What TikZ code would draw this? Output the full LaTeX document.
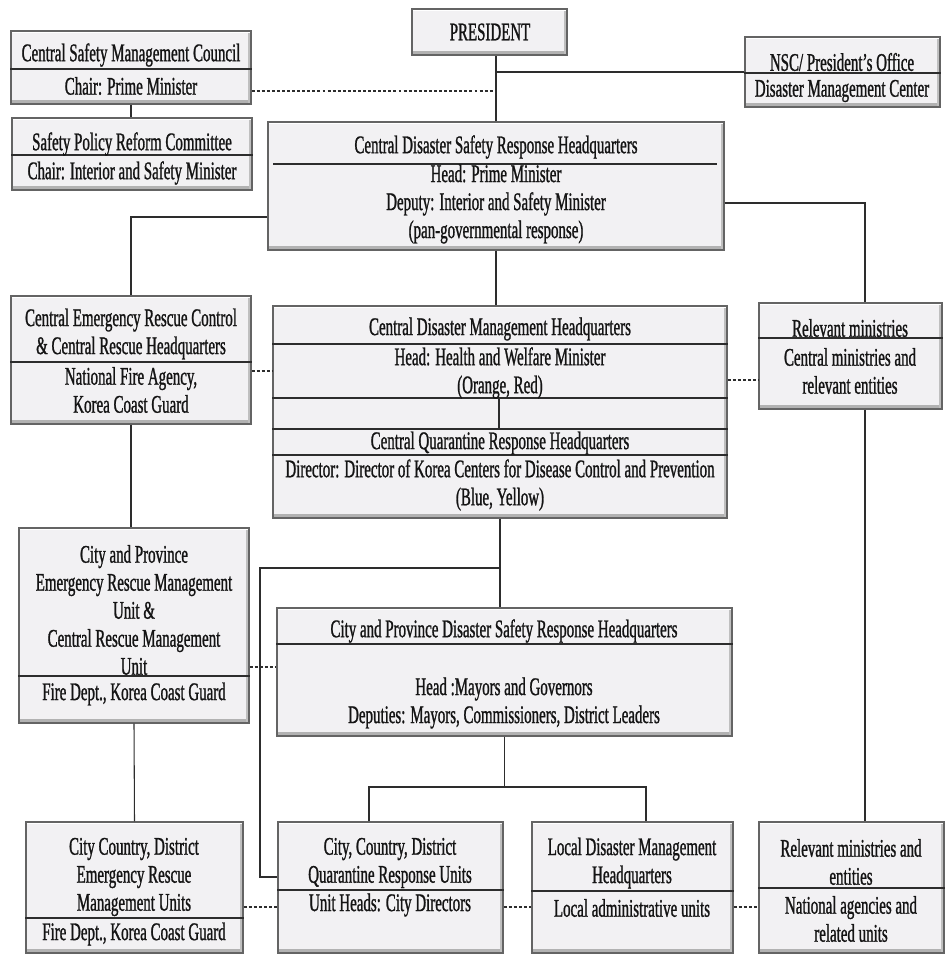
\documentclass[tikz,border=0pt]{standalone}
\usepackage{fontspec}
\setmainfont[FakeStretch=0.59,FakeBold=1]{Liberation Serif}
\usetikzlibrary{fit}
\definecolor{boxfill}{RGB}{242,241,243}
\definecolor{boxedge}{RGB}{100,100,100}
\definecolor{lineclr}{RGB}{45,45,45}
\tikzset{
  box/.style={draw=boxedge, line width=0.9pt, fill=boxfill, inner sep=0pt,
    path picture={
      \fill[gray!60] ([yshift=3pt]path picture bounding box.south west) rectangle (path picture bounding box.south east);
      \fill[gray!50] ([xshift=-2.2pt]path picture bounding box.north east) rectangle (path picture bounding box.south east);
      \fill[white] (path picture bounding box.north west) rectangle ([yshift=-1.8pt]path picture bounding box.north east);
    }},
  lbl/.style={font=\fontsize{19}{21}\selectfont, align=center, inner sep=0pt, text=black!92},
  divline/.style={draw=lineclr, line width=0.9pt},
  link/.style={draw=lineclr, line width=0.8pt},
  dotlink/.style={link, dash pattern=on 2.2pt off 1.6pt}
}
\begin{document}
\begin{tikzpicture}[x=0.75pt,y=-0.75pt]
	\useasboundingbox (0,0) rectangle (946,955);
	\node[box, fit={(412,9) (567,55)}] (pres) {};
	\node[lbl] (pres-a) at (490,32) {PRESIDENT};
	\node[box, fit={(11,31) (251,104)}] (csmc) {};
	\draw[divline] (csmc.west |- 0,69) -- (csmc.east |- 0,69);
	\node[lbl] (csmc-a) at (131,55) {Central Safety Management Council};
	\node[lbl] (csmc-b) at (131,86) {Chair: Prime Minister};
	\node[box, fit={(12,118) (252,190)}] (spr) {};
	\draw[divline] (spr.west |- 0,155) -- (spr.east |- 0,155);
	\node[lbl] (spr-a) at (132,144) {Safety Policy Reform Committee};
	\node[lbl] (spr-b) at (132,173) {Chair: Interior and Safety Minister};
	\node[box, fit={(745,37) (940,107)}] (nsc) {};
	\draw[divline] (nsc.west |- 0,73) -- (nsc.east |- 0,73);
	\node[lbl] (nsc-a) at (842,62) {NSC/ President’s Office};
	\node[lbl] (nsc-b) at (842,91) {Disaster Management Center};
	\node[box, fit={(268,122) (724,250)}] (cdsrh) {};
	\draw[divline] (273,164) -- (717,164);
	\node[lbl] (cdsrh-a) at (496,147) {Central Disaster Safety Response Headquarters};
	\node[lbl] (cdsrh-b) at (496,204) {Head: Prime Minister\\Deputy: Interior and Safety Minister\\(pan-governmental response)};
	\node[box, fit={(11,296) (251,424)}] (cer) {};
	\draw[divline] (cer.west |- 0,362) -- (cer.east |- 0,362);
	\node[lbl] (cer-a) at (131,334) {Central Emergency Rescue Control\\\& Central Rescue Headquarters};
	\node[lbl] (cer-b) at (131,390) {National Fire Agency,\\Korea Coast Guard};
	\node[box, fit={(273,306) (727,518)}] (cdmh) {};
	\foreach \yy in {344,398,429,455}
		\draw[divline] (cdmh.west |- 0,\yy) -- (cdmh.east |- 0,\yy);
	\node[lbl] (cdmh-a) at (500,329) {Central Disaster Management Headquarters};
	\node[lbl] (cdmh-b) at (500,373) {Head: Health and Welfare Minister\\(Orange, Red)};
	\node[lbl] (cqrh-a) at (500,443) {Central Quarantine Response Headquarters};
	\node[lbl] (cqrh-b) at (500,485) {Director: Director of Korea Centers for Disease Control and Prevention\\(Blue, Yellow)};
	\coordinate (cdmh-lo) at (499,398);
	\coordinate (cqrh-hi) at (499,429);
	\node[box, fit={(759,303) (942,409)}] (rm) {};
	\draw[divline] (rm.west |- 0,338) -- (rm.east |- 0,338);
	\node[lbl] (rm-a) at (850,328) {Relevant ministries};
	\node[lbl] (rm-b) at (850,371) {Central ministries and\\relevant entities};
	\node[box, fit={(19,528) (249,723)}] (cpe) {};
	\draw[divline] (cpe.west |- 0,676) -- (cpe.east |- 0,676);
	\node[lbl] (cpe-a) at (134,610) {City and Province\\Emergency Rescue Management\\Unit \&\\Central Rescue Management\\Unit};
	\node[lbl] (cpe-b) at (134,694) {Fire Dept., Korea Coast Guard};
	\node[box, fit={(277,608) (732,736)}] (cpdsrh) {};
	\draw[divline] (cpdsrh.west |- 0,644) -- (cpdsrh.east |- 0,644);
	\node[lbl] (cpdsrh-a) at (504,631) {City and Province Disaster Safety Response Headquarters};
	\node[lbl] (cpdsrh-b) at (504,703) {Head :Mayors and Governors\\Deputies: Mayors, Commissioners, District Leaders};
	\node[box, fit={(26,822) (243,953)}] (ccde) {};
	\draw[divline] (ccde.west |- 0,918) -- (ccde.east |- 0,918);
	\node[lbl] (ccde-a) at (134,877) {City Country, District\\Emergency Rescue\\Management Units};
	\node[lbl] (ccde-b) at (134,934) {Fire Dept., Korea Coast Guard};
	\node[box, fit={(278,822) (503,953)}] (ccdq) {};
	\draw[divline] (ccdq.west |- 0,890) -- (ccdq.east |- 0,890);
	\node[lbl] (ccdq-a) at (390,863) {City, Country, District\\Quarantine Response Units};
	\node[lbl] (ccdq-b) at (390,905) {Unit Heads: City Directors};
	\node[box, fit={(532,822) (733,953)}] (ldmh) {};
	\draw[divline] (ldmh.west |- 0,891) -- (ldmh.east |- 0,891);
	\node[lbl] (ldmh-a) at (632,863) {Local Disaster Management\\Headquarters};
	\node[lbl] (ldmh-b) at (632,908) {Local administrative units};
	\node[box, fit={(759,822) (944,953)}] (rme) {};
	\draw[divline] (rme.west |- 0,888) -- (rme.east |- 0,888);
	\node[lbl] (rme-a) at (851,862) {Relevant ministries and\\entities};
	\node[lbl] (rme-b) at (851,919) {National agencies and\\related units};
	\coordinate (qbend) at (260,568);
	\coordinate (fork) at (504.5,787);
	\draw[link] (cdsrh.north) -- (cdsrh.north |- pres.south);
	\draw[link] (cdsrh.north |- nsc.west) -- (nsc.west);
	\draw[dotlink] (csmc.east |- 0,91) -- (cdsrh.north |- 0,91);
	\draw[link] (csmc.south) -- (csmc.south |- spr.north);
	\draw[link] (cdsrh.west |- 0,217) -| (cer.north);
	\draw[link] (cdsrh.east |- 0,203) -| (rm.north -| 865,0);
	\draw[link] (cdsrh.south) -- (cdsrh.south |- cdmh.north);
	\draw[link] (cdmh-lo) -- (cqrh-hi);
	\draw[dotlink] (cer.east |- 0,371) -- (cdmh.west |- 0,371);
	\draw[dotlink] (cdmh.east |- 0,380) -- (rm.west |- 0,380);
	\draw[link] (rm.south -| 865,0) -- (rme.north -| 865,0);
	\draw[link] (cer.south) -- (cer.south |- cpe.north);
	\draw[dotlink] (cpe.east |- 0,667) -- (cpdsrh.west |- 0,667);
	\draw[link] (cdmh.south) -- (cdmh.south |- cpdsrh.north);
	\draw[link] (cdmh.south |- qbend) -- (qbend) |- (ccdq.west |- 0,877);
	\draw[link] (cpe.south) -- (ccde.north);
	\draw[dotlink] (ccde.east |- 0,907) -- (ccdq.west |- 0,907);
	\draw[link] (cpdsrh.south) -- (fork);
	\draw[link] (ccdq.north -| 369,0) |- (fork) -| (ldmh.north -| 646,0);
	\draw[dotlink] (ccdq.east |- 0,907) -- (ldmh.west |- 0,907);
	\draw[dotlink] (ldmh.east |- 0,907) -- (rme.west |- 0,907);
\end{tikzpicture}
\end{document}
